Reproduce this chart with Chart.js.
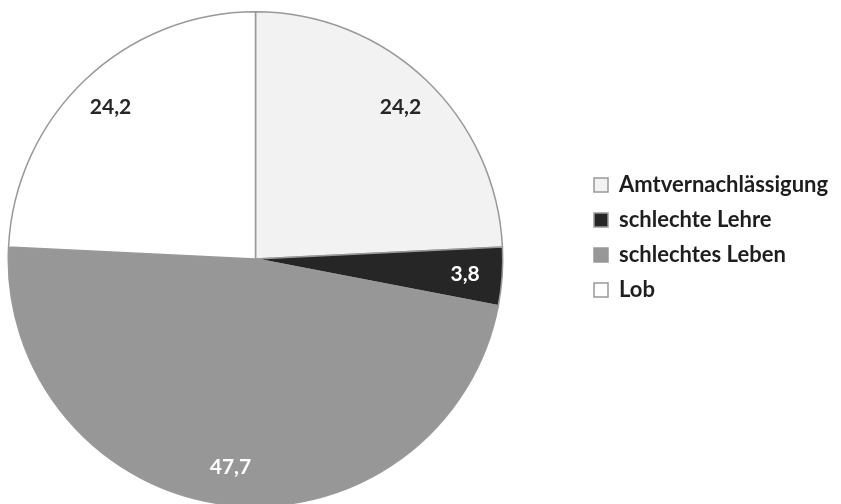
<!DOCTYPE html>
<html>
<head>
<meta charset="utf-8">
<script src="https://cdn.jsdelivr.net/npm/chart.js@4.4.0/dist/chart.umd.min.js"></script>
<style>
  html, body { margin: 0; padding: 0; background: #fff; overflow: hidden; }
  #wrap { position: relative; width: 841px; height: 510px; }
</style>
</head>
<body>
<div id="wrap"><canvas id="pieChart"></canvas></div>
<script>
const categories = ["Amtvernachlässigung", "schlechte Lehre", "schlechtes Leben", "Lob"];
const shares = [24.2, 3.8, 47.7, 24.2];
const sliceColors = ["#f2f2f2", "#262626", "#979797", "#ffffff"];
const labelColors = ["#262626", "#ffffff", "#ffffff", "#262626"];

const FONT = "Lato, 'Open Sans', sans-serif";

// legend sits to the right, at a fixed spot like the original
const legendPlace = {
  id: "legendPlace",
  beforeLayout(chart) {
    const lg = chart.legend;
    if (!lg || lg._placed) return;
    lg._placed = true;
    const fit = lg.fit;
    lg.fit = function () {
      fit.call(this);
      this.width = 841 - 503.5;
    };
    const draw = lg.draw;
    lg.draw = function () {
      const left = this.left, top = this.top;
      this.left = 594 - this.options.labels.padding;
      this.top = 174 - this.options.labels.padding;
      draw.call(this);
      this.left = left;
      this.top = top;
    };
  }
};

// value labels inside the slices
const sliceLabels = {
  id: "sliceLabels",
  afterDatasetsDraw(chart) {
    const ctx = chart.ctx;
    const meta = chart.getDatasetMeta(0);
    ctx.save();
    ctx.font = "bold 21px " + FONT;
    ctx.textAlign = "center";
    ctx.textBaseline = "middle";
    meta.data.forEach(function (arc, i) {
      const p = arc.getProps(["x", "y", "startAngle", "endAngle", "outerRadius"], true);
      const mid = (p.startAngle + p.endAngle) / 2;
      const r = p.outerRadius * 0.85;
      ctx.fillStyle = labelColors[i];
      ctx.fillText(shares[i].toFixed(1).replace(".", ","), p.x + Math.cos(mid) * r, p.y + Math.sin(mid) * r);
    });
    ctx.restore();
  }
};

const data = {
  labels: categories,
  datasets: [
    {
      data: shares,
      backgroundColor: sliceColors,
      borderColor: "#999999",
      borderWidth: 1.5,
    },
  ],
};

const config = {
  type: "pie",
  data: data,
  options: {
    responsive: true,
    maintainAspectRatio: false,
    animation: false,
    layout: { padding: { left: 7.5, top: 11, bottom: 3, right: 0 } },
    plugins: {
      tooltip: { enabled: false },
      legend: {
        position: "right",
        align: "start",
        labels: {
          boxWidth: 14,
          boxHeight: 14,
          padding: 13,
          color: "#1e1e1e",
          font: { family: FONT, size: 22, weight: "bold" },
        },
      },
    },
  },
  plugins: [legendPlace, sliceLabels],
};

const PieChart = new Chart(document.getElementById("pieChart"), config);
</script>
</body>
</html>
